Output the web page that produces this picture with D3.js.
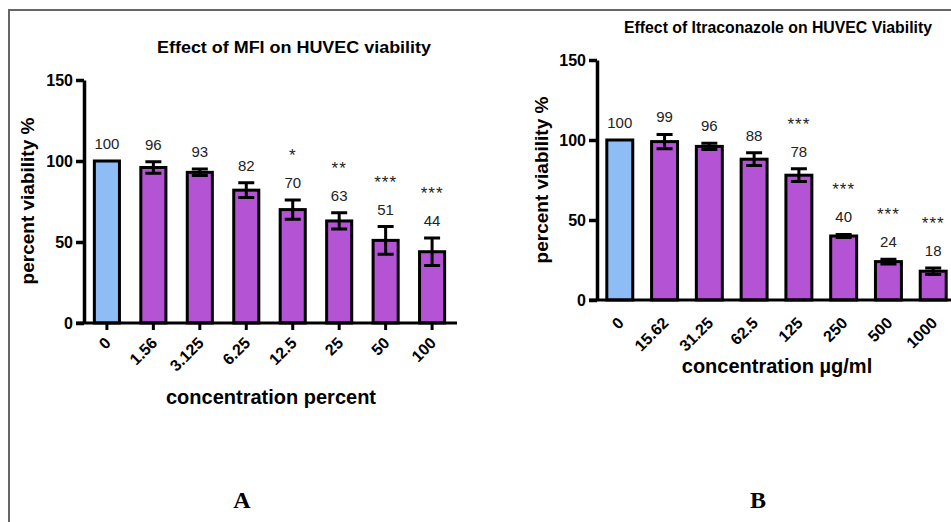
<!DOCTYPE html>
<html>
<head>
<meta charset="utf-8">
<script src="https://cdn.jsdelivr.net/npm/d3@7"></script>
<style>
  body { margin: 0; background: #fff; }
  svg { display: block; font-family: Arial, "Liberation Sans", sans-serif; }
</style>
</head>
<body>
<svg id="chart" width="951" height="522"></svg>
<script>
// panel A: MFI
var mfiConc = ["0", "1.56", "3.125", "6.25", "12.5", "25", "50", "100"];
var mfiViability = [100, 96, 93, 82, 70, 63, 51, 44];
var mfiError = [0, 3.5, 2, 4.5, 6, 5, 8.5, 8.5];
var mfiStars = ["", "", "", "", "*", "**", "***", "***"];

// panel B: Itraconazole
var itraConc = ["0", "15.62", "31.25", "62.5", "125", "250", "500", "1000"];
var itraViability = [100, 99, 96, 88, 78, 40, 24, 18];
var itraError = [0, 4.5, 2, 4, 4, 1, 1.5, 2];
var itraStars = ["", "", "", "", "***", "***", "***", "***"];

var yTicks = [0, 50, 100, 150];

var svg = d3.select("#chart");
var purple = "#b453d3";
var blue = "#8ebcf4";

// outer frame (top and left edge only)
svg.append("path")
  .attr("d", "M9,522 V10 H951")
  .attr("fill", "none")
  .attr("stroke", "#666")
  .attr("stroke-width", 2);

var drawPanel = function(p) {
  var g = svg.append("g");
  var x = d3.scaleBand().domain(p.cats).range(p.xRange).padding(p.pad);
  var y = d3.scaleLinear().domain([0, 150]).range(p.yRange);
  var bw = x.bandwidth();

  // bars
  g.selectAll("rect.bar").data(p.values).enter().append("rect")
    .attr("class", "bar")
    .attr("x", function(d, i) { return x(p.cats[i]); })
    .attr("y", function(d) { return y(d); })
    .attr("width", bw)
    .attr("height", function(d) { return y(0) - y(d); })
    .attr("fill", function(d, i) { return i == 0 ? blue : purple; })
    .attr("stroke", "#000")
    .attr("stroke-width", 3);

  // error bars
  for (var i = 0; i < p.values.length; i++) {
    if (p.err[i] == 0) continue;
    var cx = x(p.cats[i]) + bw / 2;
    var hi = y(p.values[i] + p.err[i]), lo = y(p.values[i] - p.err[i]);
    g.append("path")
      .attr("d", "M" + cx + "," + lo + "V" + hi + "M" + (cx - 8) + "," + hi + "H" + (cx + 8) + "M" + (cx - 8) + "," + lo + "H" + (cx + 8))
      .attr("stroke", "#000").attr("stroke-width", 3).attr("fill", "none");
  }

  // value labels and stars
  for (var i = 0; i < p.values.length; i++) {
    var cx = x(p.cats[i]) + bw / 2;
    var ly = y(p.values[i] + p.err[i]) - 12;
    g.append("text").attr("x", cx).attr("y", ly)
      .attr("text-anchor", "middle").attr("font-size", 15).attr("fill", "#222")
      .text(p.values[i]);
    if (p.stars[i]) {
      g.append("text").attr("x", cx).attr("y", ly - 27)
        .attr("text-anchor", "middle").attr("font-size", 17).attr("fill", "#222")
        .attr("letter-spacing", 1)
        .text(p.stars[i]);
    }
  }

  // y axis
  var yAxis = d3.axisLeft(y).tickValues(yTicks).tickSize(8).tickSizeOuter(0).tickPadding(3);
  var ya = g.append("g").attr("transform", "translate(" + p.axisX + ",0)").call(yAxis);
  ya.select(".domain").attr("stroke-width", 3.5);
  ya.selectAll(".tick line").attr("stroke-width", 3.5);
  ya.selectAll(".tick text").attr("font-size", 16).attr("font-weight", "bold").attr("fill", "#000");

  // x axis
  g.append("line")
    .attr("x1", p.axisX - 8).attr("x2", p.xEnd)
    .attr("y1", y(0)).attr("y2", y(0))
    .attr("stroke", "#000").attr("stroke-width", 3);
  var xAxis = d3.axisBottom(x).tickSize(p.xTick).tickSizeOuter(0).tickFormat("");
  var xa = g.append("g").attr("transform", "translate(0," + y(0) + ")").call(xAxis);
  xa.select(".domain").remove();
  xa.selectAll(".tick line").attr("stroke-width", 3);
  g.selectAll("text.xlab").data(p.cats).enter().append("text")
    .attr("class", "xlab")
    .attr("transform", function(d) {
      return "translate(" + (x(d) + bw / 2 + 5) + "," + (y(0) + p.labDy) + ") rotate(-45)";
    })
    .attr("text-anchor", "end").attr("font-size", 16).attr("font-weight", "bold")
    .text(function(d) { return d; });

  // titles
  g.append("text").attr("x", p.titleX).attr("y", p.titleY)
    .attr("text-anchor", "middle").attr("font-size", 16).attr("font-weight", "bold")
    .attr("textLength", p.titleW).attr("lengthAdjust", "spacingAndGlyphs")
    .text(p.title);
  g.append("text").attr("transform", "translate(" + p.yTitleX + "," + p.yTitleY + ") rotate(-90)")
    .attr("text-anchor", "middle").attr("font-size", 19).attr("font-weight", "bold")
    .text("percent viability %");
  g.append("text").attr("x", p.xTitleX).attr("y", p.xTitleY)
    .attr("text-anchor", "middle").attr("font-size", 20).attr("font-weight", "bold")
    .text(p.xTitle);
  g.append("text").attr("x", p.letterX).attr("y", 508)
    .attr("text-anchor", "middle").attr("font-size", 24).attr("font-weight", "bold")
    .attr("font-family", "'Liberation Serif', 'DejaVu Serif', serif")
    .text(p.letter);
};

drawPanel({
  cats: mfiConc, values: mfiViability, err: mfiError, stars: mfiStars,
  xRange: [73, 466], pad: 0.46, yRange: [323, 80], axisX: 84, xEnd: 457, xTick: 7, labDy: 21,
  title: "Effect of MFI on HUVEC viability", titleX: 294, titleY: 53, titleW: 274,
  yTitleX: 34, yTitleY: 201, xTitle: "concentration percent", xTitleX: 271, xTitleY: 404,
  letter: "A", letterX: 242
});

drawPanel({
  cats: itraConc, values: itraViability, err: itraError, stars: itraStars,
  xRange: [588, 965], pad: 0.42, yRange: [300, 60], axisX: 597, xEnd: 960, xTick: 0, labDy: 24,
  title: "Effect of Itraconazole on HUVEC Viability", titleX: 778, titleY: 33, titleW: 308,
  yTitleX: 548, yTitleY: 180, xTitle: "concentration \u00b5g/ml", xTitleX: 777, xTitleY: 373,
  letter: "B", letterX: 758
});
</script>
</body>
</html>
